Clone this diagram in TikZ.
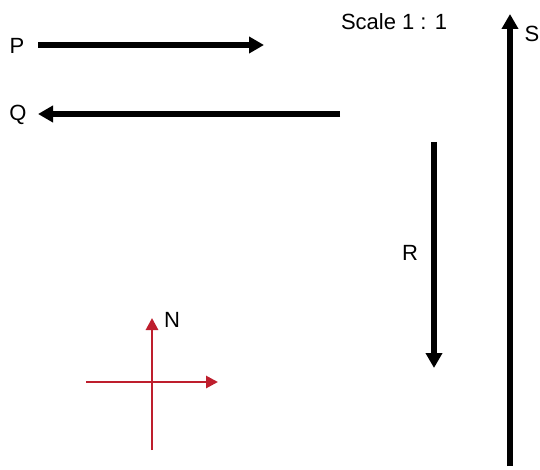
\documentclass[tikz,border=0pt]{standalone}
\usepackage{fontspec}
\setmainfont{Liberation Sans}
\usetikzlibrary{arrows.meta}
\definecolor{compassred}{RGB}{190,30,45}
\tikzset{
    vetor/.style={draw=black, line width=5.5pt, -{Triangle[length=15pt,width=16pt]}},
    bussola/.style={draw=compassred, line width=2.8pt},
    rotulo/.style={font=\fontsize{22}{26}\selectfont, inner sep=0pt}
}
\begin{document}
\begin{tikzpicture}[x=1pt, y=-1pt]
    \useasboundingbox (0,0) rectangle (540,470);
    % vetores
    \coordinate (p0) at (38,45);   \coordinate (p1) at (264,45);
    \coordinate (q0) at (340,114); \coordinate (q1) at (38,114);
    \coordinate (r0) at (434,142); \coordinate (r1) at (434,368);
    \coordinate (s0) at (510,466); \coordinate (s1) at (510,14);
    \draw[vetor] (p0) -- (p1);
    \draw[vetor] (q0) -- (q1);
    \draw[vetor] (r0) -- (r1);
    \draw[vetor] (s0) -- (s1);
    \node[rotulo] (labP) at (17,46) {P};
    \node[rotulo] (labQ) at (18,115) {Q};
    \node[rotulo] (labR) at (410,253) {R};
    \node[rotulo] (labS) at (532,34) {S};
    \node[rotulo] (escala) at (394,22) {Scale 1 : 1};
    % bussola
    \coordinate (sul) at (152,450);  \coordinate (norte) at (152,318);
    \coordinate (oeste) at (86,382); \coordinate (leste) at (218,382);
    \draw[bussola, -{Triangle[length=12pt,width=12pt]}] (sul) -- (norte);
    \draw[bussola, -{Triangle[length=12pt,width=12pt]}] (oeste) -- (leste);
    \node[rotulo, text=black] (labN) at (172,320) {N};
\end{tikzpicture}
\end{document}
